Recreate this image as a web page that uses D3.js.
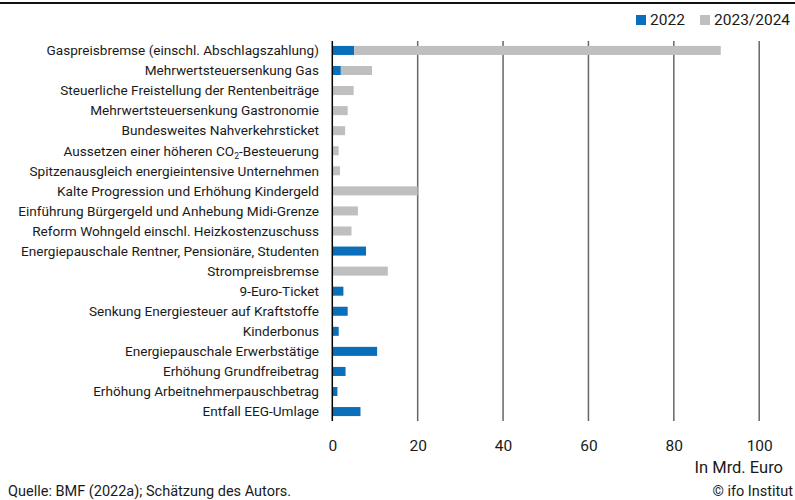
<!DOCTYPE html>
<html>
<head>
<meta charset="utf-8">
<script src="https://cdn.jsdelivr.net/npm/d3@7"></script>
<style>
  body { margin: 0; background: #fff; }
  svg text { font-family: Roboto, "Noto Sans", sans-serif; fill: #1a1a1a; }
</style>
</head>
<body>
<div id="chart"></div>
<script>
var width = 795, height = 500;

// Massnahmen, von oben nach unten
var categories = [
  "Gaspreisbremse (einschl. Abschlagszahlung)",
  "Mehrwertsteuersenkung Gas",
  "Steuerliche Freistellung der Rentenbeiträge",
  "Mehrwertsteuersenkung Gastronomie",
  "Bundesweites Nahverkehrsticket",
  "Aussetzen einer höheren CO2-Besteuerung",
  "Spitzenausgleich energieintensive Unternehmen",
  "Kalte Progression und Erhöhung Kindergeld",
  "Einführung Bürgergeld und Anhebung Midi-Grenze",
  "Reform Wohngeld einschl. Heizkostenzuschuss",
  "Energiepauschale Rentner, Pensionäre, Studenten",
  "Strompreisbremse",
  "9-Euro-Ticket",
  "Senkung Energiesteuer auf Kraftstoffe",
  "Kinderbonus",
  "Energiepauschale Erwerbstätige",
  "Erhöhung Grundfreibetrag",
  "Erhöhung Arbeitnehmerpauschbetrag",
  "Entfall EEG-Umlage"
];
var v2022 = [5.1, 2.0, 0, 0, 0, 0, 0, 0, 0, 0, 7.9, 0, 2.6, 3.6, 1.5, 10.5, 3.1, 1.2, 6.6];
var v2023 = [85.9, 7.3, 5.0, 3.6, 3.0, 1.5, 1.8, 20.0, 6.0, 4.5, 0, 13.0, 0, 0, 0, 0, 0, 0, 0];
var seriesNames = ["2022", "2023/2024"];
var colors = ["#0a6fba", "#bfbfbf"];
var xTicks = [0, 20, 40, 60, 80, 100];

var svg = d3.select("#chart").append("svg")
    .attr("width", width)
    .attr("height", height);

// top rule
svg.append("line")
    .attr("x1", 0).attr("x2", width)
    .attr("y1", 3).attr("y2", 3)
    .attr("stroke", "#111").attr("stroke-width", 2);

var x = d3.scaleLinear().domain([0, 100]).range([332.3, 759.2]);
var y = d3.scaleBand().domain(categories).range([40.5, 421.5]).paddingInner(0.55).paddingOuter(0.27);

// gridlines
svg.append("g").selectAll("line")
    .data(xTicks.slice(1))
    .join("line")
    .attr("x1", d => x(d)).attr("x2", d => x(d))
    .attr("y1", 41).attr("y2", 421)
    .attr("stroke", "#666").attr("stroke-width", 1.5);

var rows = categories.map((c, i) => ({ name: c, a: v2022[i], b: v2023[i] }));
var stack = d3.stack().keys(["a", "b"])(rows);

svg.append("g").selectAll("g")
    .data(stack)
    .join("g")
    .attr("fill", (d, i) => colors[i])
    .selectAll("rect")
    .data(d => d)
    .join("rect")
    .attr("x", d => x(d[0]))
    .attr("width", d => x(d[1]) - x(d[0]))
    .attr("y", d => y(d.data.name))
    .attr("height", y.bandwidth());

// zero axis
svg.append("line")
    .attr("x1", x(0)).attr("x2", x(0))
    .attr("y1", 41).attr("y2", 421)
    .attr("stroke", "#000").attr("stroke-width", 1.5);

// category labels
var labels = svg.append("g").selectAll("text")
    .data(categories)
    .join("text")
    .attr("x", 319)
    .attr("y", d => y(d) + y.bandwidth() / 2)
    .attr("dy", "0.35em")
    .attr("text-anchor", "end")
    .style("font-size", "13.6px");

labels.each(function(d) {
  var t = d3.select(this);
  if (d.indexOf("CO2") >= 0) {
    var parts = d.split("CO2");
    t.append("tspan").text(parts[0] + "CO");
    t.append("tspan").text("2").style("font-size", "8.5px").attr("dy", "3");
    t.append("tspan").text(parts[1]).attr("dy", "-3");
  } else {
    t.text(d);
  }
});

// x tick labels
var xAxis = d3.axisBottom(x).tickValues(xTicks).tickSize(0).tickPadding(0);
var ax = svg.append("g").attr("transform", "translate(0,440)").call(xAxis);
ax.select(".domain").remove();
ax.selectAll("text").style("font-size", "15.5px").style("font-family", "Roboto, sans-serif")
    .attr("dy", "0.71em").attr("fill", "#1a1a1a");

svg.append("text")
    .attr("x", 783).attr("y", 473)
    .attr("text-anchor", "end")
    .style("font-size", "16.5px")
    .text("In Mrd. Euro");

// legend
var legend = svg.append("g");
var lx = [636, 700];
seriesNames.forEach(function(s, i) {
  legend.append("rect")
      .attr("x", lx[i]).attr("y", 15)
      .attr("width", 10).attr("height", 10)
      .attr("fill", colors[i]);
  legend.append("text")
      .attr("x", lx[i] + 14).attr("y", 20)
      .attr("dy", "0.35em")
      .style("font-size", "15.5px")
      .text(s);
});

// footer
svg.append("text")
    .attr("x", 8).attr("y", 496)
    .style("font-size", "14.5px")
    .text("Quelle: BMF (2022a); Schätzung des Autors.");
svg.append("text")
    .attr("x", 793).attr("y", 496)
    .attr("text-anchor", "end")
    .style("font-size", "14.5px")
    .text("© ifo Institut");
</script>
</body>
</html>
